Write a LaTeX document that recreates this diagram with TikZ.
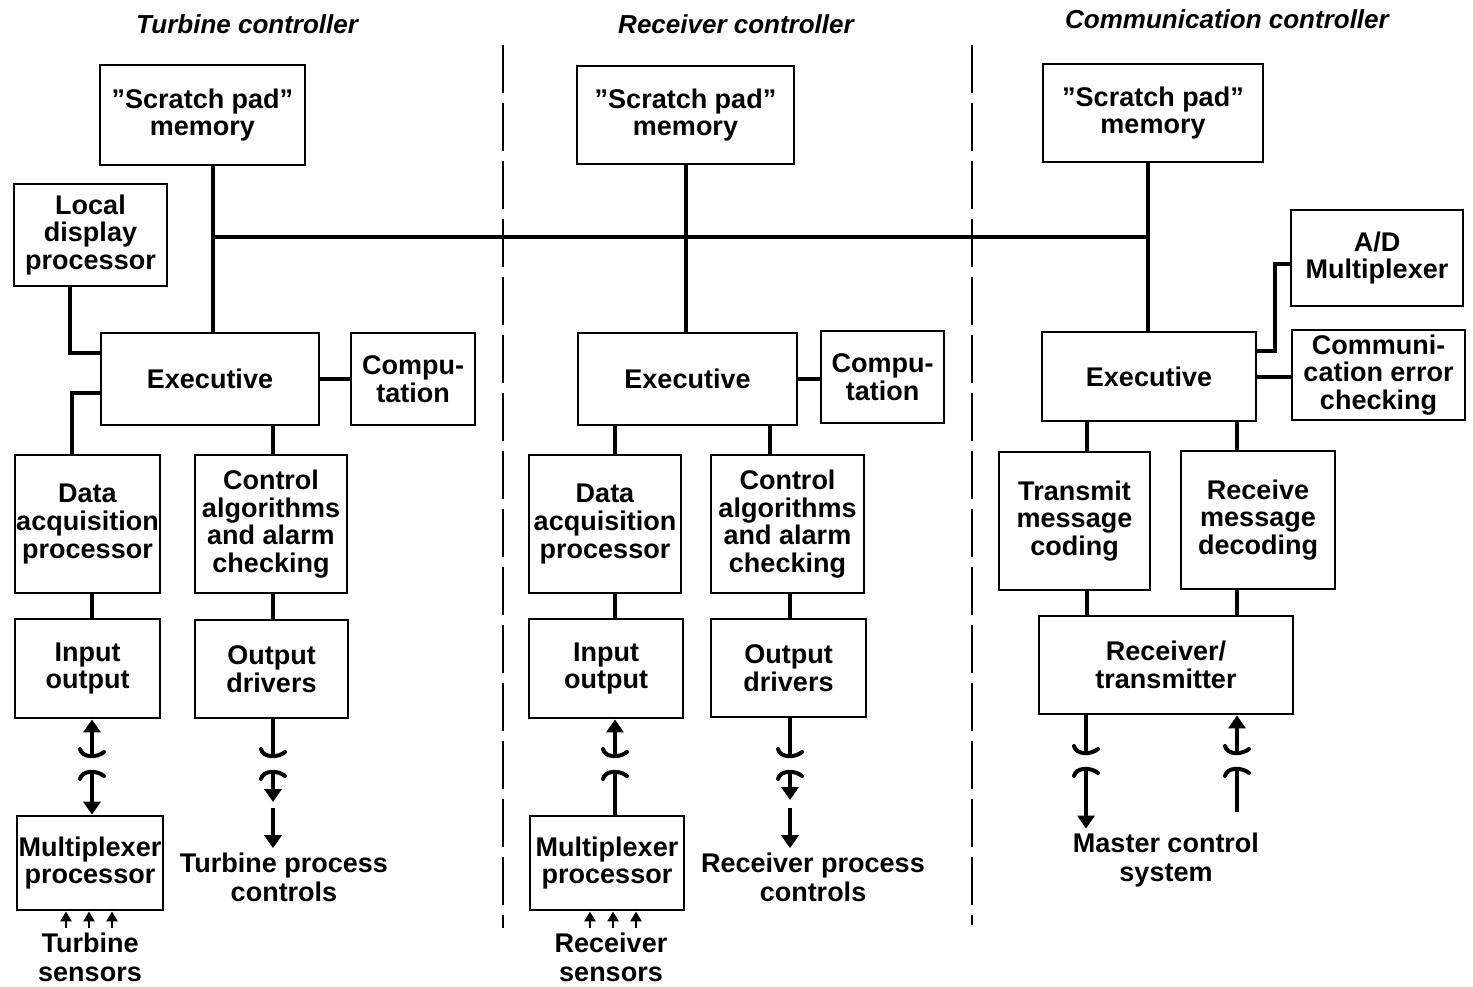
\documentclass[tikz,border=0pt]{standalone}
\usepackage{fontspec}
\setmainfont{Liberation Sans}
\usetikzlibrary{arrows.meta}

\tikzset{
  blk/.style={draw, line width=1.4pt, align=center, inner sep=0pt,
    font=\bfseries\fontsize{13.5}{13.8}\selectfont},
  txt/.style={align=center, inner sep=2pt, font=\bfseries\fontsize{13.5}{14.5}\selectfont},
  ttl/.style={font=\bfseries\itshape\fontsize{13}{15}\selectfont},
  link/.style={line width=2pt},
  arr/.style={-{Triangle[length=6.5pt,width=8.5pt]}},
  rarr/.style={{Triangle[length=6.5pt,width=8.5pt]}-},
  sens/.style={line width=1.4pt, -{Triangle[length=5pt,width=5.5pt]}},
  sep/.style={line width=0.9pt, dash pattern=on 24pt off 5pt},
  cutfoot/.pic={\draw[line width=2pt, line cap=round] (-12,-5) .. controls (-10,4) and (5,4) .. (12,-2);},
  cuthead/.pic={\draw[line width=2pt, line cap=round] (-12,5) .. controls (-10,-4) and (5,-4) .. (12,2);}
}

\begin{document}
\begin{tikzpicture}[x=0.5pt, y=-0.5pt]
    \useasboundingbox (0,0) rectangle (1473,986);

    % titles and column separators
    \node[ttl] (ttitle) at (247,24) {Turbine controller};
    \node[ttl] (rtitle) at (736,24) {Receiver controller};
    \node[ttl] (ctitle) at (1227,19) {Communication controller};
    \draw[sep] (503,45) -- (503,928);
    \draw[sep] (972,45) -- (972,925);

    % turbine controller
    \node[blk, minimum width=102.5pt, minimum height=50pt] (tsp) at (202.5,115) {''Scratch pad''\\memory};
    \node[blk, minimum width=76.5pt, minimum height=51pt] (tlocal) at (90.5,235) {Local\\display\\processor};
    \node[blk, minimum width=109pt, minimum height=46pt] (texec) at (210,379) {Executive};
    \node[blk, minimum width=62pt, minimum height=46pt] (tcomp) at (413,379) {Compu-\\tation};
    \node[blk, minimum width=72.5pt, minimum height=69pt] (tdaq) at (87.5,524) {Data\\acquisition\\processor};
    \node[blk, minimum width=76pt, minimum height=69pt] (tctrl) at (271,524) {Control\\algorithms\\and alarm\\checking};
    \node[blk, minimum width=72.5pt, minimum height=49.5pt] (tio) at (87.5,668.5) {Input\\output};
    \node[blk, minimum width=76.5pt, minimum height=49pt] (tout) at (271.5,669) {Output\\drivers};
    \node[blk, minimum width=73pt, minimum height=47pt] (tmux) at (90,863) {Multiplexer\\processor};
    \node[txt] (tpc) at (284,877) {Turbine process\\controls};
    \node[txt] (tsens) at (90,957) {Turbine\\sensors};

    % receiver controller
    \node[blk, minimum width=108.5pt, minimum height=49pt] (rsp) at (685.5,115) {''Scratch pad''\\memory};
    \node[blk, minimum width=109.5pt, minimum height=46pt] (rexec) at (687.5,379) {Executive};
    \node[blk, minimum width=61.5pt, minimum height=46pt] (rcomp) at (882.5,377) {Compu-\\tation};
    \node[blk, minimum width=76pt, minimum height=69pt] (rdaq) at (605,524) {Data\\acquisition\\processor};
    \node[blk, minimum width=76.5pt, minimum height=69pt] (rctrl) at (787.5,524) {Control\\algorithms\\and alarm\\checking};
    \node[blk, minimum width=77pt, minimum height=49.5pt] (rio) at (606,668.5) {Input\\output};
    \node[blk, minimum width=77.5pt, minimum height=49pt] (rout) at (788.5,668) {Output\\drivers};
    \node[blk, minimum width=77pt, minimum height=47pt] (rmux) at (607,863) {Multiplexer\\processor};
    \node[txt] (rpc) at (813,877) {Receiver process\\controls};
    \node[txt] (rsens) at (611,957) {Receiver\\sensors};

    % communication controller
    \node[blk, minimum width=110pt, minimum height=49pt] (csp) at (1153,113) {''Scratch pad''\\memory};
    \node[blk, minimum width=86pt, minimum height=48pt] (cad) at (1377,258) {A/D\\Multiplexer};
    \node[blk, minimum width=107pt, minimum height=44.5pt] (cexec) at (1149,376.5) {Executive};
    \node[blk, minimum width=86.5pt, minimum height=45pt] (cerr) at (1378.5,375) {Communi-\\cation error\\checking};
    \node[blk, minimum width=75.5pt, minimum height=69pt] (ctx) at (1074.5,521) {Transmit\\message\\coding};
    \node[blk, minimum width=77pt, minimum height=69pt] (crx) at (1258,520) {Receive\\message\\decoding};
    \node[blk, minimum width=127pt, minimum height=49pt] (crt) at (1166,665) {Receiver/\\transmitter};
    \node[txt] (cmcs) at (1166,860) {Master control\\system};

    % common bus
    \coordinate (tbus) at (213,237);
    \coordinate (rbus) at (686,237);
    \coordinate (cbus) at (1148,237);
    \draw[link] (tbus) -- (cbus);
    \draw[link] (tsp.south -| tbus) -- (texec.north -| tbus);
    \draw[link] (rsp.south -| rbus) -- (rexec.north -| rbus);
    \draw[link] (csp.south -| cbus) -- (cexec.north -| cbus);

    % turbine links
    \draw[link] (tlocal.south -| 70,0) |- (texec.west |- 0,353);
    \draw[link] (tdaq.north -| 72,0) |- (texec.west |- 0,393);
    \draw[link] (texec.east) -- (tcomp.west);
    \draw[link] (texec.south -| 273,0) -- (tctrl.north -| 273,0);
    \draw[link] (tdaq.south -| 92,0) -- (tio.north -| 92,0);
    \draw[link] (tctrl.south -| 273,0) -- (tout.north -| 273,0);
    \draw[link, rarr] (tio.south -| 92,0) -- (92,754);
    \pic at (92,754) {cutfoot};
    \pic at (92,774) {cuthead};
    \draw[link, arr] (92,774) -- (tmux.north -| 92,0);
    \draw[link] (tout.south -| 273,0) -- (273,754);
    \pic at (273,754) {cutfoot};
    \pic at (273,774) {cuthead};
    \draw[link, arr] (273,774) -- (273,802);
    \draw[link, arr] (273,808) -- (tpc.north -| 273,0);
    \foreach \sx in {66,89,112}
        \draw[sens] (\sx,928) -- (\sx,0 |- tmux.south);

    % receiver links
    \draw[link] (rexec.south -| 615,0) -- (rdaq.north -| 615,0);
    \draw[link] (rexec.south -| 770,0) -- (rctrl.north -| 770,0);
    \draw[link] (rexec.east) -- (rcomp.west |- rexec.east);
    \draw[link] (rdaq.south -| 615,0) -- (rio.north -| 615,0);
    \draw[link] (rctrl.south -| 790,0) -- (rout.north -| 790,0);
    \draw[link, rarr] (rio.south -| 615,0) -- (615,754);
    \pic at (615,754) {cutfoot};
    \pic at (615,774) {cuthead};
    \draw[link] (615,774) -- (rmux.north -| 615,0);
    \draw[link] (rout.south -| 790,0) -- (790,754);
    \pic at (790,754) {cutfoot};
    \pic at (790,774) {cuthead};
    \draw[link, arr] (790,774) -- (790,800);
    \draw[link, arr] (790,808) -- (rpc.north -| 790,0);
    \foreach \sx in {590,613,636}
        \draw[sens] (\sx,928) -- (\sx,0 |- rmux.south);

    % communication links
    \draw[link] (cexec.east |- 0,351) -- (1275,351) |- (cad.west |- 0,264);
    \draw[link] (cexec.east |- 0,377) -- (cerr.west |- 0,377);
    \draw[link] (cexec.south -| 1087,0) -- (ctx.north -| 1087,0);
    \draw[link] (cexec.south -| 1237,0) -- (crx.north -| 1237,0);
    \draw[link] (ctx.south -| 1087,0) -- (crt.north -| 1087,0);
    \draw[link] (crx.south -| 1237,0) -- (crt.north -| 1237,0);
    \draw[link] (crt.south -| 1086,0) -- (1086,751);
    \pic at (1086,751) {cutfoot};
    \pic at (1086,771) {cuthead};
    \draw[link, arr] (1086,771) -- (cmcs.north -| 1086,0);
    \draw[link, rarr] (crt.south -| 1237,0) -- (1237,751);
    \pic at (1237,751) {cutfoot};
    \pic at (1237,771) {cuthead};
    \draw[link] (1237,771) -- (1237,812);
\end{tikzpicture}
\end{document}
